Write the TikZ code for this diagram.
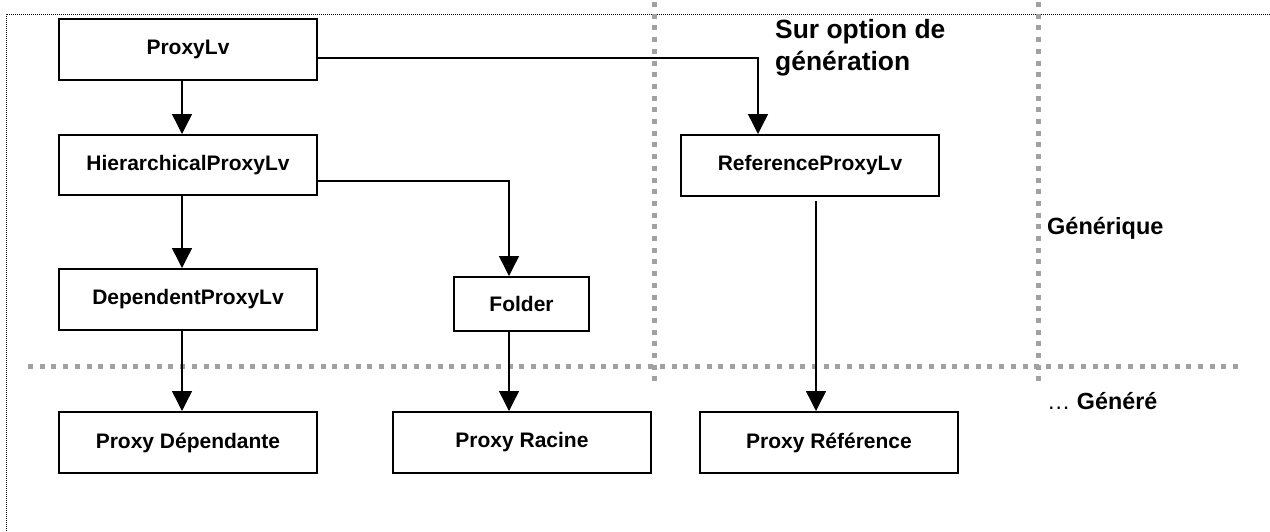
\documentclass[tikz,border=0pt]{standalone}
\usepackage{fontspec}
\setmainfont{Liberation Sans}
\usetikzlibrary{positioning}
\usetikzlibrary{calc}
\usetikzlibrary{arrows.meta}

\tikzset{
	classbox/.style={draw, line width=2pt, inner sep=0pt, minimum width=258pt, minimum height=61pt, font=\fontsize{21}{25}\selectfont\bfseries},
	link/.style={line width=1.4pt},
	zone/.style={color=sepgray, line width=5pt, dash pattern=on 5pt off 6.7pt},
	>={Triangle[length=20pt,width=20pt]}
}

\begin{document}
\begin{tikzpicture}[x=1pt, y=-1pt]
	\definecolor{sepgray}{rgb}{0.63,0.63,0.63}
	\useasboundingbox (0,0) rectangle (1270,531);

	\draw[line width=1pt, dash pattern=on 1pt off 1pt] (6,531) -- (6,14) -- (1270,14);

	\draw[zone] (28,366) -- (1238,366);
	\draw[zone] (654,2) -- (654,388);
	\draw[zone] (1038,2) -- (1038,388);

	\node[classbox] (proxy) at (188,49.5) {ProxyLv};
	\node[classbox, minimum height=60pt] (hier) at (188,165) {HierarchicalProxyLv};
	\node[classbox] (dep) at (188,299.5) {DependentProxyLv};
	\node[classbox, minimum width=135pt, minimum height=54pt] (folder) at (521.5,304) {Folder};
	\node[classbox] (refproxy) at (810,165.5) {ReferenceProxyLv};

	\node[classbox] (pdep) at (188,442.5) {Proxy Dépendante};
	\node[classbox] (pracine) at (522,442.5) {Proxy Racine};
	\node[classbox] (pref) at (829,442.5) {Proxy Référence};

	\node[anchor=north west, inner sep=0pt, align=left, font=\fontsize{26.4}{32}\selectfont\bfseries] (option) at (775,19) {Sur option de\\génération};
	\node[anchor=base west, inner sep=0pt, font=\fontsize{23.5}{28}\selectfont\bfseries] (generique) at (1047,234) {Générique};
	\node[anchor=base west, inner sep=0pt, font=\fontsize{23.3}{28}\selectfont] (genere) at (1047,409) {… \textbf{Généré}};

	\coordinate (lcol) at ($(proxy.south)+(-6,0)$);
	\coordinate (fdrop) at ($(folder.south)+(-12.5,0)$);
	\coordinate (rdrop) at ($(refproxy.south)+(6,4)$);

	\draw[link, ->] (lcol) -- (lcol |- hier.north);
	\draw[link, ->] (lcol |- hier.south) -- (lcol |- dep.north);
	\draw[link, ->] (lcol |- dep.south) -- (lcol |- pdep.north);
	\draw[link, ->] ($(proxy.east)+(0,8.5)$) -| ($(refproxy.north)+(-52,0)$);
	\draw[link, ->] ($(hier.east)+(0,16)$) -| (fdrop |- folder.north);
	\draw[link, ->] (fdrop) -- (fdrop |- pracine.north);
	\draw[link, ->] (rdrop) -- (rdrop |- pref.north);
\end{tikzpicture}
\end{document}
